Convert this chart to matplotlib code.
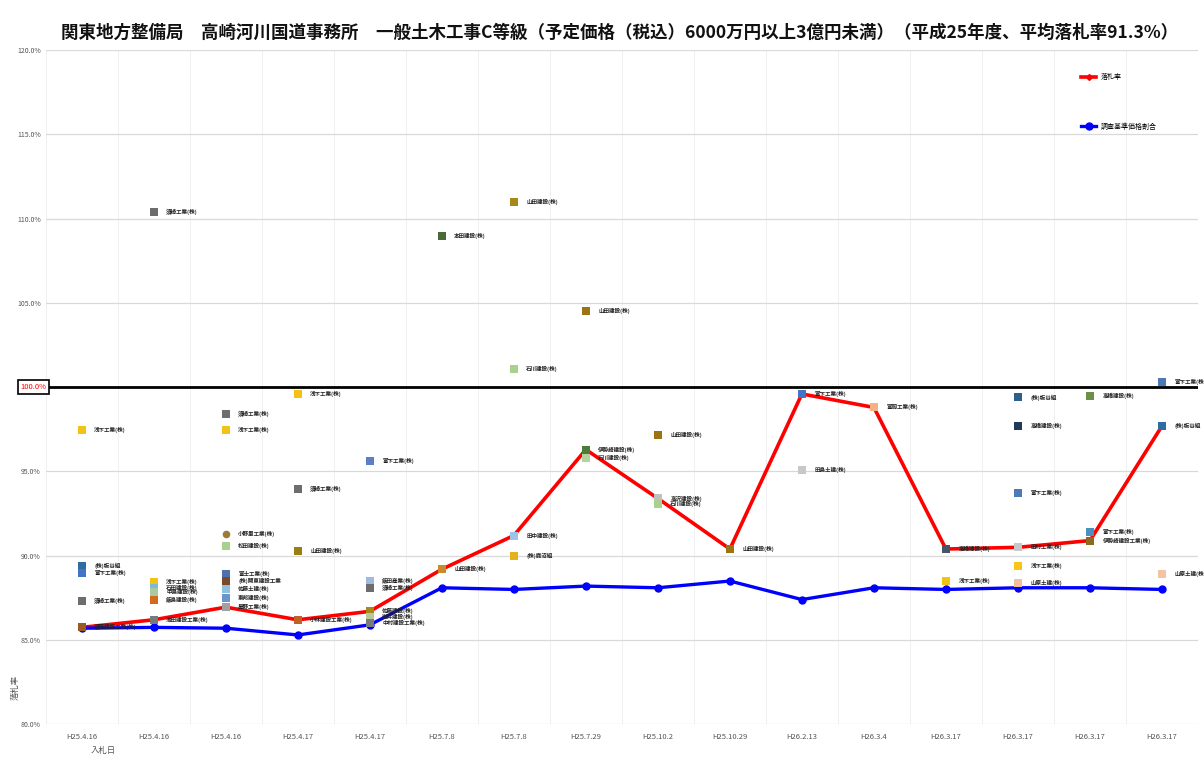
"""Bid ratio chart: Takasaki river & national road office, civil works class C (H25)."""

import matplotlib

matplotlib.use("Agg")
import matplotlib.pyplot as plt
import numpy as np

plt.rcParams["font.family"] = ["Noto Sans CJK JP", "DejaVu Sans"]

TITLE = ("関東地方整備局　高崎河川国道事務所　一般土木工事C等級（予定価格（税込）6000万円以上3億円未満）"
         "（平成25年度、平均落札率91.3%）")

dates = ["H25.4.16", "H25.4.16", "H25.4.16", "H25.4.17", "H25.4.17", "H25.7.8",
         "H25.7.8", "H25.7.29", "H25.10.2", "H25.10.29", "H26.2.13", "H26.3.4",
         "H26.3.17", "H26.3.17", "H26.3.17", "H26.3.17"]

# winning bid ratio (%) and survey-standard price ratio (%)
bid_rate = [85.75, 86.2, 86.95, 86.2, 86.7, 89.2, 91.2, 96.3, 93.4, 90.4,
            99.6, 98.8, 90.4, 90.5, 90.9, 97.7]
survey_rate = [85.7, 85.75, 85.7, 85.3, 85.9, 88.1, 88.0, 88.2, 88.1, 88.5,
               87.4, 88.1, 88.0, 88.1, 88.1, 88.0]

# every bidder: contract index, bid ratio (%), company name
bid_idx = [0, 0, 0, 0, 0,
           1, 1, 1, 1, 1, 1,
           2, 2, 2, 2, 2, 2, 2, 2, 2,
           3, 3, 3, 3,
           4, 4, 4, 4, 4, 4,
           5, 5,
           6, 6, 6, 6,
           7, 7, 7,
           8, 8, 8,
           9,
           10, 10,
           11,
           12, 12,
           13, 13, 13, 13, 13, 13,
           14, 14, 14,
           15, 15, 15]
bid_val = [97.45, 89.4, 89.0, 87.3, 85.75,
           110.4, 88.45, 88.1, 87.85, 87.4, 86.2,
           98.4, 97.45, 91.3, 90.6, 88.9, 88.5, 88.0, 87.5, 86.95,
           99.6, 93.95, 90.3, 86.2,
           95.6, 88.5, 88.1, 86.7, 86.35, 86.0,
           109.0, 89.2,
           111.0, 101.1, 91.2, 90.0,
           104.5, 96.3, 95.8,
           97.15, 93.4, 93.1,
           90.4,
           99.6, 95.1,
           98.8,
           90.4, 88.5,
           99.4, 97.7, 93.7, 90.5, 89.4, 88.4,
           99.5, 91.4, 90.9,
           100.3, 97.7, 88.9]
bid_name = ["浅下工業(株)", "(株)板谷組", "富下工業(株)", "須崎工業(株)", "須藤建設工業(株)",
            "須崎工業(株)", "浅下工業(株)", "石田建設(株)", "中島建設(株)", "飯島建設(株)", "池田建設工業(株)",
            "須崎工業(株)", "浅下工業(株)", "小野里工業(株)", "松田建設(株)", "富士工業(株)",
            "(株)関東建設工業", "佐藤土建(株)", "東邦建設(株)", "星野工業(株)",
            "浅下工業(株)", "須崎工業(株)", "山田建設(株)", "小林建設工業(株)",
            "富下工業(株)", "飯田産業(株)", "須崎工業(株)", "佐藤建設(株)", "岩井建設(株)", "中村建設工業(株)",
            "本田建設(株)", "山田建設(株)",
            "山田建設(株)", "石川建設(株)", "田中建設(株)", "(株)鹿沼組",
            "山田建設(株)", "伊勢崎建設(株)", "石川建設(株)",
            "山田建設(株)", "高沢建設(株)", "石川建設(株)",
            "山田建設(株)",
            "富下工業(株)", "田島土建(株)",
            "富岡工業(株)",
            "高橋建設(株)", "浅下工業(株)",
            "(株)板谷組", "高橋建設(株)", "富下工業(株)", "田村工業(株)", "浅下工業(株)", "山原土建(株)",
            "高橋建設(株)", "富下工業(株)", "伊勢崎建設工業(株)",
            "富下工業(株)", "(株)板谷組", "山原土建(株)"]
bid_color = ["#f2c314", "#2e6da4", "#4472c4", "#6d6d6d", "#9c5a23",
             "#6d6d6d", "#f2c314", "#7fb8d4", "#a9c9a0", "#d46b1c", "#7a7a7a",
             "#6d6d6d", "#f2c314", "#9c7a3c", "#a9d08e", "#4f6fae", "#7b4a2a", "#8ec1e0", "#6a96cc", "#a0a0a0",
             "#f2c314", "#6d6d6d", "#9b7d10", "#c0612a",
             "#5b7ec9", "#9dbbe0", "#6d6d6d", "#a58a1a", "#b5c99a", "#7a7a7a",
             "#4a6b35", "#c98b2a",
             "#a58a1a", "#a9d08e", "#9dc3e6", "#e5b21c",
             "#9b7514", "#4e7a3a", "#b5d3a0",
             "#9b7514", "#c0c0c0", "#a9d08e",
             "#9b7514",
             "#4472c4", "#c8c8c8",
             "#f4b183",
             "#44546a", "#f2c314",
             "#2e5f8a", "#1f3a5a", "#4e79b8", "#c8c8c8", "#f5c518", "#f4c09a",
             "#6e8f48", "#4a90c0", "#8b6a1c",
             "#4e79b8", "#2e6da4", "#f2c3a4"]
bid_marker = ["s"] * len(bid_val)
bid_marker[13] = "o"

fig = plt.figure(figsize=(12.04, 7.6), dpi=100)
ax = fig.add_axes([0.038, 0.047, 0.957, 0.887])

x = np.arange(len(dates))
ax.plot(x, bid_rate, color="#ff0000", lw=2.6, marker="D", ms=3, label="落札率", zorder=3)
ax.plot(x, survey_rate, color="#0000ff", lw=2.4, marker="o", ms=5, label="調査基準価格割合", zorder=3)

for i, v, c, m, name in zip(bid_idx, bid_val, bid_color, bid_marker, bid_name):
    ax.scatter(i, v, marker=m, s=30, color=c, zorder=4, linewidths=0)
    ax.annotate(name, (i, v), xytext=(9, 0), textcoords="offset points",
                fontsize=4, fontweight="bold", va="center", ha="left", color="#222222", zorder=5)

ax.axhline(100, color="black", lw=2, zorder=2)

ax.set_xlim(-0.5, len(dates) - 0.5)
ax.set_ylim(80, 120)
yt = np.arange(80, 121, 5)
ax.set_yticks(yt)
ax.set_yticklabels(["" if t == 100 else f"{t:.1f}%" for t in yt], fontsize=5, color="#555555")
ax.set_xticks(x)
ax.set_xticklabels(dates, fontsize=5.5, color="#555555")
ax.set_xticks(np.arange(-0.5, len(dates), 0.5), minor=True)
ax.tick_params(axis="both", which="both", length=0)
ax.tick_params(axis="x", pad=6)
ax.grid(axis="y", color="#d9d9d9", lw=0.9)
ax.grid(axis="x", which="minor", color="#f0f0f0", lw=0.7)
for side in ["top", "right", "left", "bottom"]:
    ax.spines[side].set_visible(False)
ax.set_axisbelow(True)

fig.text(0.028, 0.491, "100.0%", fontsize=5.5, color="red", ha="center", va="center",
         bbox=dict(boxstyle="square,pad=0.35", fc="white", ec="black", lw=1.2))

ax.legend(loc="upper left", bbox_to_anchor=(0.893, 0.975), frameon=False, fontsize=5,
          labelspacing=6, handlelength=2.2, handletextpad=0.6)

fig.text(0.515, 0.957, TITLE, fontsize=12.6, fontweight="bold", ha="center", va="center", color="#111111")
fig.text(0.013, 0.095, "落札率", fontsize=6, rotation=90, ha="center", va="center", color="#555555")
fig.text(0.075, 0.006, "入札日", fontsize=6, ha="left", va="bottom", color="#555555")

fig.savefig("out.png", dpi=100)
